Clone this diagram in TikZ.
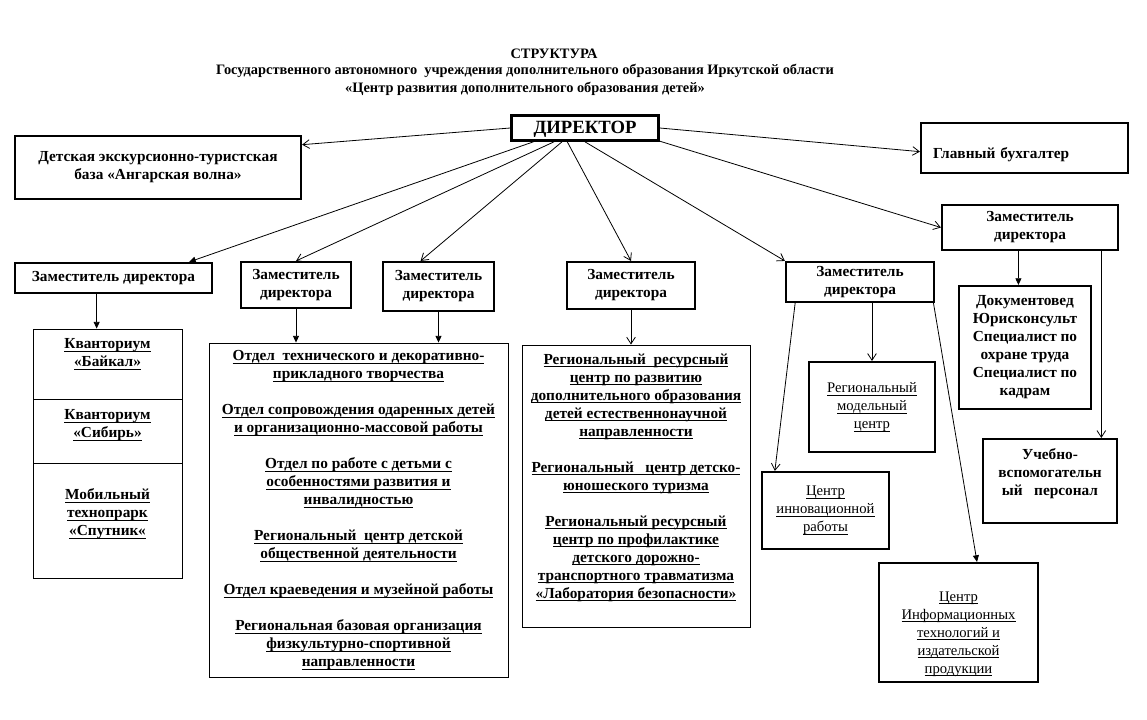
\documentclass[tikz,border=0pt]{standalone}
\usepackage{fontspec}
\setmainfont{Liberation Serif}
\usetikzlibrary{arrows.meta}
\newcommand{\undl}[1]{\underline{\raisebox{0pt}[\height][0.4pt]{#1}}}

\begin{document}
\begin{tikzpicture}[x=0.75pt,y=-0.75pt,
	box/.style={draw,line width=1.6pt,align=center,inner sep=1pt,font=\bfseries\fontsize{11.5}{13.5}\selectfont},
	listframe/.style={draw,line width=0.7pt,inner sep=0pt},
	lbl/.style={align=center,inner sep=0pt,font=\bfseries\fontsize{11.5}{13.5}\selectfont},
	regtext/.style={font=\fontsize{11}{13.5}\selectfont},
	openarrow/.style={line width=0.6pt,-{Straight Barb[length=5pt,width=6.5pt]}},
	fillarrow/.style={line width=0.6pt,-{Triangle[length=5pt,width=4.5pt]}}]
	\useasboundingbox (0,0) rectangle (1147,719);

	% title
	\node[font=\bfseries\fontsize{10.8}{13.5}\selectfont] (title) at (554,54) {СТРУКТУРА};
	\node[align=center,font=\bfseries\fontsize{10.8}{13.5}\selectfont] (subtitle) at (525,80) {Государственного автономного\ \ учреждения дополнительного образования Иркутской области\\«Центр развития дополнительного образования детей»};

	% top level
	\node[box,line width=2pt,minimum width=110.25pt,minimum height=18.75pt,text height=10pt,text depth=2pt,font=\bfseries\fontsize{14}{16}\selectfont] (dir) at (585,128) {ДИРЕКТОР};
	\node[box,minimum width=214.5pt,minimum height=47.25pt] (det) at (158,167.5) {Детская экскурсионно-туристская\\база «Ангарская волна»};
	\node[box,minimum width=155.25pt,minimum height=37.5pt,text width=137pt,align=left,inner xsep=9pt,text height=19pt,text depth=3pt] (gl) at (1024.5,148) {Главный бухгалтер};

	% deputies
	\node[box,minimum width=147.75pt,minimum height=22.5pt] (z1) at (113.5,278) {Заместитель директора};
	\node[box,minimum width=82.5pt,minimum height=34.5pt] (z2) at (296,285) {Заместитель\\директора};
	\node[box,minimum width=83.25pt,minimum height=36.75pt] (z3) at (438.5,286.5) {Заместитель\\директора};
	\node[box,minimum width=96pt,minimum height=35.25pt] (z4) at (631,285.5) {Заместитель\\директора};
	\node[box,minimum width=111pt,minimum height=30pt] (z5) at (860,282) {Заместитель\\директора};
	\node[box,minimum width=132pt,minimum height=33.75pt] (zr) at (1030,227.5) {Заместитель\\директора};

	% kvantoriums
	\node[listframe,minimum width=111.75pt,minimum height=52.5pt] (kv1) at (107.5,364) {};
	\node[listframe,minimum width=111.75pt,minimum height=48pt] (kv2) at (107.5,431) {};
	\node[listframe,minimum width=111.75pt,minimum height=86.25pt] (kv3) at (107.5,520.5) {};
	\node[lbl] (kvA) at (107.5,354) {\undl{Кванториум}\\\undl{«Байкал»}};
	\node[lbl] (kvB) at (107.5,425) {\undl{Кванториум}\\\undl{«Сибирь»}};
	\node[lbl] (kvC) at (107.5,514) {\undl{Мобильный}\\\undl{технопрарк}\\\undl{«Спутник«}};

	% departments
	\node[listframe,lbl,minimum width=224.25pt,minimum height=250.5pt] (bb) at (358.5,510) {\undl{Отдел\ \ технического и декоративно-}\\\undl{прикладного творчества}\\[13.5pt]
		\undl{Отдел сопровождения одаренных детей}\\\undl{и организационно-массовой работы}\\[13.5pt]
		\undl{Отдел по работе с детьми с}\\\undl{особенностями развития и}\\\undl{инвалидностью}\\[13.5pt]
		\undl{Региональный\ \ центр детской}\\\undl{общественной деятельности}\\[13.5pt]
		\undl{Отдел краеведения и музейной работы}\\[13.5pt]
		\undl{Региональная базовая организация}\\\undl{физкультурно-спортивной}\\\undl{направленности}};
	\node[listframe,minimum width=171pt,minimum height=211.5pt] (mb) at (636,486) {};
	\node[lbl] (mbtext) at (636,477.5) {\undl{Региональный\ \ ресурсный}\\\undl{центр по развитию}\\\undl{дополнительного образования}\\\undl{детей естественнонаучной}\\\undl{направленности}\\[13.5pt]
		\undl{Региональный\ \ \ центр детско-}\\\undl{юношеского туризма}\\[13.5pt]
		\undl{Региональный ресурсный}\\\undl{центр по профилактике}\\\undl{детского дорожно-}\\\undl{транспортного травматизма}\\\undl{«Лаборатория безопасности»}};

	% centres
	\node[box,regtext,minimum width=94.5pt,minimum height=67.5pt] (rm) at (872,407) {\undl{Региональный}\\\undl{модельный}\\\undl{центр}};
	\node[box,regtext,minimum width=95.25pt,minimum height=57.75pt] (ci) at (825.5,510.5) {\undl{Центр}\\\undl{инновационной}\\\undl{работы}};
	\node[box,minimum width=119.25pt,minimum height=89.25pt] (cit) at (958.5,622.5) {};
	\node[lbl,regtext] (cittext) at (958.5,634) {\undl{Центр}\\\undl{Информационных}\\\undl{технологий и}\\\undl{издательской}\\\undl{продукции}};
	\node[box,minimum width=99pt,minimum height=92.25pt] (doc) at (1025,347.5) {Документовед\\Юрисконсульт\\Специалист по\\охране труда\\Специалист по\\кадрам};
	\node[box,minimum width=100.5pt,minimum height=63pt] (uv) at (1050,481) {};
	\node[lbl] (uvtext) at (1050,474) {Учебно-\\вспомогательн\\ый\ \ \ персонал};

	% arrows from the director
	\draw[openarrow] (dir.west) -- (det.9);
	\draw[openarrow] (dir.east) -- (gl.182);
	\draw[openarrow] (dir.350) -- (zr.west);
	\draw[fillarrow] (dir.195) -- (z1.12);
	\draw[openarrow] (dir.204) -- (z2.north);
	\draw[openarrow] (dir.211) -- (z3.125);
	\draw[openarrow] (dir.218) -- (z4.north);
	\draw[openarrow] (dir.south) -- (z5.north west);

	% arrows from the deputies
	\draw[fillarrow] (z1.south -| kv1.107) -- (kv1.107);
	\draw[fillarrow] (z2.south) -- (z2.south |- bb.north);
	\draw[fillarrow] (z3.south) -- (z3.south |- bb.north);
	\draw[openarrow] (z4.south) -- (z4.south |- mb.north);
	\draw[openarrow] (z5.198) -- (ci.142);
	\draw[openarrow] (rm.north |- z5.south) -- (rm.north);
	\draw[fillarrow] (z5.344) -- (cit.73);
	\draw[fillarrow] (zr.south -| doc.96) -- (doc.96);
	\draw[openarrow] (zr.south -| uv.40) -- (uv.40);
\end{tikzpicture}
\end{document}
